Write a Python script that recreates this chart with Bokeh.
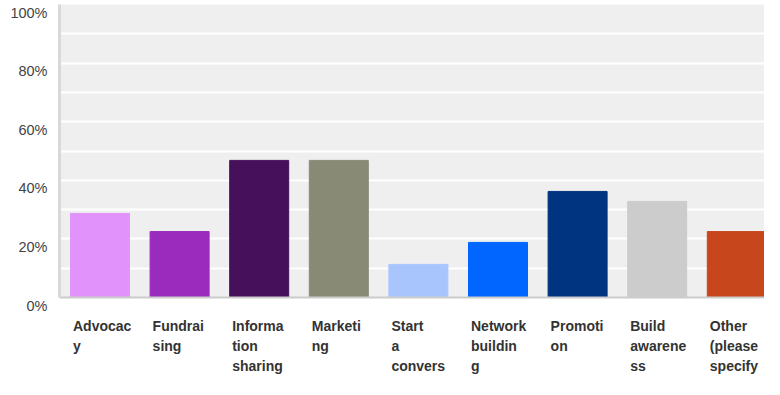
from bokeh.plotting import figure
from bokeh.layouts import row, column
from bokeh.models import Range1d, FixedTicker, ColumnDataSource
from bokeh.core.properties import value
from bokeh.embed import file_html
from bokeh.resources import INLINE

categories = ["Advocacy", "Fundraising", "Information sharing", "Marketing",
              "Start a conversation", "Network building", "Promotion",
              "Build awareness", "Other (please specify)"]
tick_labels = ["Advocac\ny", "Fundrai\nsing", "Informa\ntion\nsharing", "Marketi\nng",
               "Start\na\nconvers\nation", "Network\nbuildin\ng", "Promoti\non",
               "Build\nawarene\nss", "Other\n(please\nspecify\n)"]
values = [28.7, 22.5, 46.8, 46.8, 11.3, 18.8, 36.2, 32.8, 22.5]
colors = ["#e292fb", "#9a2bbd", "#46105a", "#888a76", "#a8c6fd",
          "#0066ff", "#003380", "#cccccc", "#c8461c"]
y_ticks = [0, 20, 40, 60, 80, 100]
y_tick_labels = ["0%", "20%", "40%", "60%", "80%", "100%"]
grid_ticks = [0, 10, 20, 30, 40, 50, 60, 70, 80, 90, 100]

# layout constants (pixels)
W, H = 764, 379
LEFT = 57          # width of y-label strip
TOP, BOTTOM = 4, 297
PX_PER_PCT = (BOTTOM - TOP) / 100.0
PX_PER_CAT = 79.6
FIRST_CENTER = 99.5
FRAME_LEFT = 59
BAR_PX = 59

bar_w = BAR_PX / PX_PER_CAT
xs = list(range(len(categories)))
src = ColumnDataSource(dict(
    x=xs, value=values, color=colors, label=tick_labels,
    lx=[x - bar_w / 2 + 2.5 / PX_PER_CAT for x in xs],
))

x_start = -(FIRST_CENTER - FRAME_LEFT) / PX_PER_CAT
x_end = x_start + (W - FRAME_LEFT) / PX_PER_CAT
xr = Range1d(x_start, x_end)

# ---- main bar chart
p = figure(width=W - LEFT, height=BOTTOM + 2, output_backend="svg", toolbar_location=None,
           x_range=xr, y_range=Range1d(0, 100),
           min_border_left=2, min_border_right=0, min_border_top=TOP, min_border_bottom=2)
p.background_fill_color = "#efefef"
p.border_fill_color = "white"
p.outline_line_color = None
p.vbar(x="x", top="value", bottom=0, width=bar_w, color="color", source=src)

for ax in (p.xaxis, p.yaxis):
    ax.ticker = FixedTicker(ticks=[])
    ax.major_tick_out = 0
    ax.major_tick_in = 0
    ax.minor_tick_line_color = None
    ax.major_label_standoff = 0
p.yaxis.axis_line_color = "#d8d8d8"
p.yaxis.axis_line_width = 3
p.xaxis.axis_line_color = "#cccccc"
p.xaxis.axis_line_width = 2

p.xgrid.grid_line_color = None
p.ygrid.ticker = FixedTicker(ticks=grid_ticks)
p.ygrid.grid_line_color = "white"
p.ygrid.grid_line_width = 2

# ---- y label strip
yl_src = ColumnDataSource(dict(y=y_ticks, label=y_tick_labels))
pl = figure(width=LEFT, height=H, output_backend="svg", toolbar_location=None,
            x_range=Range1d(0, LEFT),
            y_range=Range1d(-(H - BOTTOM) / PX_PER_PCT, 100 + TOP / PX_PER_PCT),
            min_border=0)
pl.axis.visible = False
pl.grid.visible = False
pl.outline_line_color = None
pl.background_fill_color = "white"
pl.text(x=47, y="y", text="label", source=yl_src, text_align="right",
        text_baseline="top", text_font=value("Liberation Sans"),
        text_font_size="14.5px", text_color="#444444")

# ---- category label strip
p2 = figure(width=W - LEFT, height=H - BOTTOM - 2, output_backend="svg", toolbar_location=None,
            x_range=xr, y_range=Range1d(-(H - BOTTOM - 2), 0),
            min_border_left=2, min_border_right=0, min_border_top=0, min_border_bottom=0)
p2.axis.visible = False
p2.grid.visible = False
p2.outline_line_color = None
p2.background_fill_color = "white"
p2.text(x="lx", y=-18, text="label", source=src, text_align="left",
        text_baseline="top", text_font=value("Liberation Sans"), text_font_style="bold",
        text_font_size="14px", text_line_height=1.25, text_color="#333333")

layout = row(pl, column(p, p2))
open("out.html", "w").write(file_html(layout, INLINE))
